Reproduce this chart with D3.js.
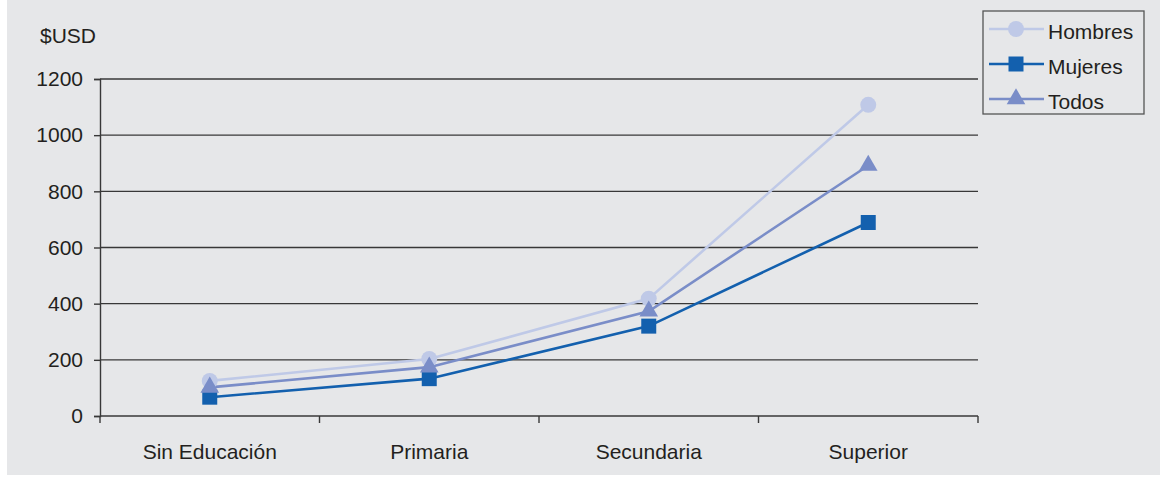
<!DOCTYPE html>
<html><head><meta charset="utf-8">
<script src="https://cdn.jsdelivr.net/npm/d3@7"></script>
<style>
html,body{margin:0;padding:0;background:#fff;}
svg{display:block;font-family:"Liberation Sans",Arial,sans-serif;}
</style></head>
<body>
<svg id="chart" width="1162" height="477"></svg>
<script>
const categories = ["Sin Educación", "Primaria", "Secundaria", "Superior"];
const hombres = [125, 203, 418, 1108];
const mujeres = [67, 133, 320, 689];
const todos = [102, 174, 373, 892];
const yTicks = [0, 200, 400, 600, 800, 1000, 1200];
const seriesNames = ["Hombres", "Mujeres", "Todos"];
const unitLabel = "$USD";

const series = [
  {name: seriesNames[0], values: hombres, color: "#bfc9e7", symbol: d3.symbolCircle, size: 200},
  {name: seriesNames[1], values: mujeres, color: "#1360ae", symbol: d3.symbolSquare, size: 225},
  {name: seriesNames[2], values: todos, color: "#7a8dc8", symbol: d3.symbolTriangle, size: 150}
];

const FS = 21;
const svg = d3.select("#chart");
const W = 1162, H = 477;
const m = {left: 100, right: 184, top: 79, bottom: 61};

svg.append("rect").attr("x", 7).attr("y", 0).attr("width", 1153).attr("height", 475).attr("fill", "#e6e7e9");

const x = d3.scaleBand().domain(categories).range([m.left, W - m.right]);
const y = d3.scaleLinear().domain([0, 1200]).range([H - m.bottom, m.top]);

// gridlines
svg.append("g").selectAll("line").data(yTicks).join("line")
  .attr("x1", m.left).attr("x2", W - m.right)
  .attr("y1", d => y(d)).attr("y2", d => y(d))
  .attr("stroke", "#383838").attr("stroke-width", 1.4);

// y axis
const ya = svg.append("g").attr("transform", `translate(${m.left},0)`)
  .call(d3.axisLeft(y).tickValues(yTicks).tickSize(6).tickPadding(11).tickFormat(d3.format("d")));
ya.select(".domain").attr("stroke", "#383838").attr("stroke-width", 1.4);
ya.selectAll(".tick line").attr("stroke", "#383838").attr("stroke-width", 1.4);
ya.selectAll("text").attr("font-size", FS).attr("fill", "#231f20").attr("font-family", "Liberation Sans, Arial, sans-serif");

// x axis
const xa = svg.append("g").attr("transform", `translate(0,${y(0)})`)
  .call(d3.axisBottom(x).tickSize(0).tickPadding(28));
xa.select(".domain").remove();
xa.selectAll("text").attr("font-size", FS).attr("fill", "#231f20").attr("font-family", "Liberation Sans, Arial, sans-serif");
// boundary ticks
const bounds = categories.map(c => x(c)).concat([x(categories[categories.length-1]) + x.bandwidth()]);
svg.append("g").selectAll("line").data(bounds).join("line")
  .attr("x1", d => d).attr("x2", d => d).attr("y1", y(0)).attr("y2", y(0) + 7)
  .attr("stroke", "#383838").attr("stroke-width", 1.4);

svg.append("text").attr("x", 40).attr("y", 43).attr("font-size", FS).attr("fill", "#231f20").text(unitLabel);

const cx = c => x(c) + x.bandwidth() / 2;
const line = d3.line().x((d, i) => cx(categories[i])).y(d => y(d));

series.forEach(s => {
  svg.append("path").attr("d", line(s.values)).attr("fill", "none")
    .attr("stroke", s.color).attr("stroke-width", 2.6);
});
series.forEach(s => {
  svg.append("g").selectAll("path").data(s.values).join("path")
    .attr("d", d3.symbol().type(s.symbol).size(s.size))
    .attr("transform", (d, i) => `translate(${cx(categories[i])},${y(d)})`)
    .attr("fill", s.color);
});

// legend
const lg = svg.append("g");
lg.append("rect").attr("x", 983).attr("y", 11).attr("width", 161).attr("height", 103)
  .attr("fill", "#e6e7e9").attr("stroke", "#555").attr("stroke-width", 1.3);
series.forEach((s, i) => {
  const yy = 29 + i * 35;
  lg.append("line").attr("x1", 989).attr("x2", 1044).attr("y1", yy).attr("y2", yy)
    .attr("stroke", s.color).attr("stroke-width", 2.6);
  lg.append("path").attr("d", d3.symbol().type(s.symbol).size(s.size))
    .attr("transform", `translate(1016,${yy})`).attr("fill", s.color);
  lg.append("text").attr("x", 1048).attr("y", yy + 10).attr("font-size", FS).attr("fill", "#231f20").text(s.name);
});
</script>
</body></html>
